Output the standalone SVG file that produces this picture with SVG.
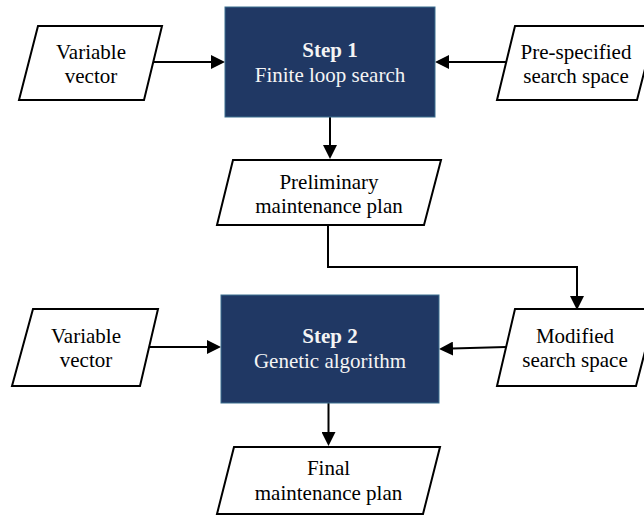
<svg xmlns="http://www.w3.org/2000/svg" width="644" height="516" viewBox="0 0 644 516">
<style>
.io{fill:#fff;stroke:#000;stroke-width:2;stroke-linejoin:miter}
.step{fill:#203864;stroke:#3A6E8F;stroke-width:1}
.t{font-family:"Liberation Serif","Times New Roman",serif;font-size:21px;fill:#000;text-anchor:middle}
.tw{font-family:"Liberation Serif","Times New Roman",serif;font-size:21px;fill:#F4F4F4;text-anchor:middle}
.b{font-weight:bold}
.c{fill:none;stroke:#000;stroke-width:2}
</style>
<defs>
<marker id="ah" viewBox="0 0 14 14" refX="1" refY="7" markerWidth="14" markerHeight="14" markerUnits="userSpaceOnUse" orient="auto">
<path d="M0,0 L14,7 L0,14 z" fill="#000"/>
</marker>
</defs>
<rect width="644" height="516" fill="#fff"/>
<g id="connectors">
<line class="c" x1="153" y1="62" x2="212" y2="62" marker-end="url(#ah)"/>
<line class="c" x1="506" y1="62" x2="448" y2="62" marker-end="url(#ah)"/>
<line class="c" x1="330" y1="117" x2="330" y2="146" marker-end="url(#ah)"/>
<path class="c" d="M328,225 V267 H577 V297" marker-end="url(#ah)"/>
<line class="c" x1="148" y1="347" x2="208" y2="347" marker-end="url(#ah)"/>
<line class="c" x1="506" y1="347" x2="452" y2="348.6" marker-end="url(#ah)"/>
<line class="c" x1="328.5" y1="403" x2="328.5" y2="433" marker-end="url(#ah)"/>
</g>
<g id="var1">
<polygon class="io" points="38,26 162,26 144,100 19,100"/>
<text class="t" x="91" y="59">Variable</text>
<text class="t" x="91" y="83">vector</text>
</g>
<g id="step1">
<rect class="step" x="225" y="7" width="210" height="110"/>
<text class="tw b" x="330" y="57">Step 1</text>
<text class="tw" x="330" y="82">Finite loop search</text>
</g>
<g id="prespec">
<polygon class="io" points="515,26 656,26 637,100 497,100"/>
<text class="t" x="576" y="59">Pre-specified</text>
<text class="t" x="576" y="83">search space</text>
</g>
<g id="prelim">
<polygon class="io" points="233,160 441,160 424,225 217,225"/>
<text class="t" x="329" y="189">Preliminary</text>
<text class="t" x="329" y="213">maintenance plan</text>
</g>
<g id="var2">
<polygon class="io" points="33,309 158,309 140,386 12,386"/>
<text class="t" x="86" y="343">Variable</text>
<text class="t" x="86" y="367">vector</text>
</g>
<g id="step2">
<rect class="step" x="221" y="295" width="218" height="108"/>
<text class="tw b" x="330" y="343">Step 2</text>
<text class="tw" x="330" y="368">Genetic algorithm</text>
</g>
<g id="modified">
<polygon class="io" points="515,309 656,309 636,386 497,386"/>
<text class="t" x="575" y="343">Modified</text>
<text class="t" x="575" y="367">search space</text>
</g>
<g id="final">
<polygon class="io" points="234,447 440,447 423,514 217,514"/>
<text class="t" x="328.5" y="475">Final</text>
<text class="t" x="328.5" y="500">maintenance plan</text>
</g>
</svg>
